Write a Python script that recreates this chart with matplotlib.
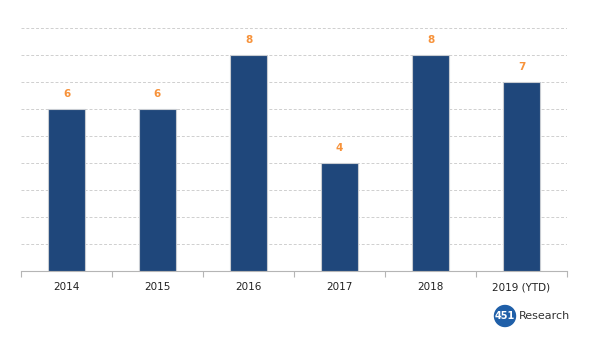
import matplotlib.pyplot as plt
from matplotlib.patches import Circle

years = ["2014", "2015", "2016", "2017", "2018", "2019 (YTD)"]
counts = [6, 6, 8, 4, 8, 7]

fig = plt.figure(figsize=(6, 3.4), dpi=100)
ax = fig.add_axes([0.035, 0.203, 0.91, 0.715])

x = list(range(len(years)))
ax.bar(x, counts, width=0.41, color="#1f477b", edgecolor="#c8ccd2", linewidth=0.8, zorder=3)

for xi, v in zip(x, counts):
    ax.text(xi, v + 0.35, str(v), ha="center", va="bottom", fontsize=7.5,
            color="#f7923a", fontweight="bold")

ax.set_xlim(-0.5, len(years) - 0.5)
ax.set_ylim(0, 9)
ax.set_yticks(range(1, 10))
ax.yaxis.grid(True, linestyle=(0, (3, 2)), color="#cfcfcf", linewidth=0.7, zorder=0)
ax.tick_params(axis="y", left=False, labelleft=False)

# ticks at category boundaries, labels in the middle
ax.set_xticks([i - 0.5 for i in range(len(years) + 1)])
ax.set_xticklabels([])
ax.set_xticks(x, minor=True)
ax.set_xticklabels(years, minor=True, fontsize=7.5, color="#222222")
ax.tick_params(axis="x", which="major", length=4, color="#b5b5b5", width=0.8)
ax.tick_params(axis="x", which="minor", length=0, pad=8)

for s in ["top", "right", "left"]:
    ax.spines[s].set_visible(False)
ax.spines["bottom"].set_color("#b5b5b5")
ax.spines["bottom"].set_linewidth(0.8)

# 451 Research logo (positions in inches)
fig.patches.append(Circle((5.05, 0.24), 0.105, transform=fig.dpi_scale_trans,
                          color="#1f5fa8", zorder=5))
fig.text(505 / 600, 0.24 / 3.4, "451", ha="center", va="center", fontsize=7,
         color="white", fontweight="bold", zorder=6)
fig.text(519 / 600, 0.24 / 3.4, "Research", ha="left", va="center", fontsize=8,
         color="#333333")

fig.savefig("out.png", dpi=100)
